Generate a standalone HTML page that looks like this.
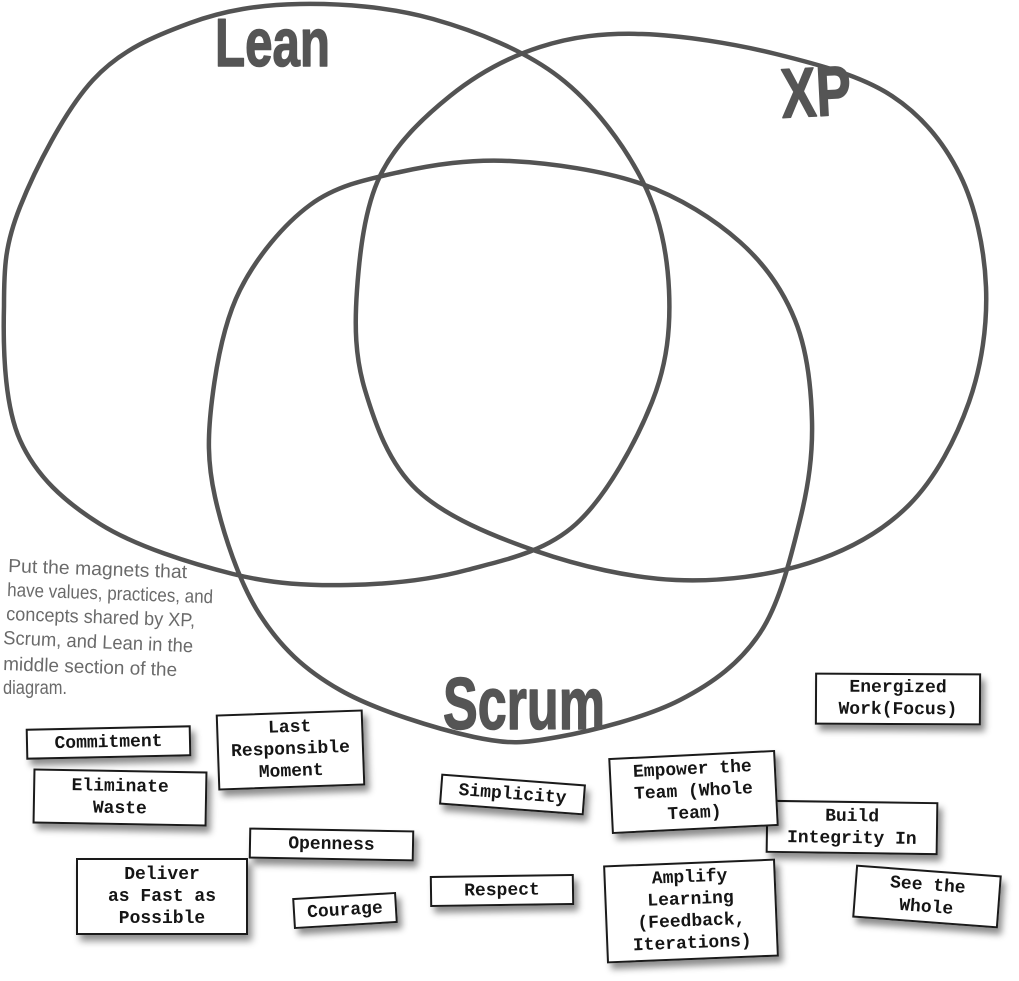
<!DOCTYPE html>
<html>
<head>
<meta charset="utf-8">
<style>
  html, body { margin:0; padding:0; background:#fff; }
  body { width:1019px; height:981px; position:relative; overflow:hidden; }
  svg.bg { position:absolute; left:0; top:0; }
  .m {
    position:absolute; box-sizing:border-box; background:#fff;
    border:2px solid #1a1a1a;
    box-shadow: 4px 6px 7px rgba(0,0,0,0.45);
    display:flex; align-items:center; justify-content:center; text-align:center;
    font-family:"Liberation Mono", "DejaVu Sans Mono", monospace;
    font-weight:bold; font-size:18px; line-height:22px; color:#151515;
    white-space:nowrap;
  }
</style>
</head>
<body>
<svg class="bg" width="1019" height="981" viewBox="0 0 1019 981" xmlns="http://www.w3.org/2000/svg">
  <g fill="none" stroke="#535353" stroke-width="4.5" stroke-linejoin="round">
    <!-- Lean -->
    <path d="M300,4 C340.5,3.3 389.8,6.8 433,19 C476.2,31.2 524.2,50.2 559,77 C593.8,103.8 623.7,144.5 642,180 C660.3,215.5 667.3,253 669,290 C670.7,327 667.5,363 652,402 C636.5,441 606.8,496 576,524 C545.2,552 505,559.8 467,570 C429,580.2 387,584.3 348,585 C309,585.7 274.3,584.2 233,574 C191.7,563.8 135.5,546.3 100,524 C64.5,501.7 36.2,476.3 20,440 C3.8,403.7 3,344.8 4,306 C4,267.2 5,244.7 20,207 C35,169.3 64.7,110.7 93,80 C121.3,49.3 155.5,35.7 190,23 C224.5,10.3 259.5,4.7 300,4 Z"/>
    <!-- XP -->
    <path d="M642,34 C681.3,35.2 734.3,43.7 776,54 C817.7,64.3 861.3,75.8 892,96 C922.7,116.2 944.3,143.2 960,175 C975.7,206.8 984.5,249.2 986,287 C987.5,324.8 981.8,365.7 969,402 C956.2,438.3 935.7,478.2 909,505 C882.3,531.8 847.8,550.5 809,563 C770.2,575.5 721.5,582 676,580 C630.5,578 579.2,566 536,551 C492.8,536 445.5,516.8 417,490 C388.5,463.2 375,423.3 365,390 C355,356.7 354.5,325.7 357,290 C359.5,254.3 364.5,208.3 380,176 C395.5,143.7 423.3,117.5 450,96 C476.7,74.5 508,57.3 540,47 C572,36.7 602.7,32.8 642,34 Z"/>
    <!-- Scrum -->
    <path d="M510,161 C550.3,163 603.7,170.5 642,184 C680.3,197.5 714.5,219.3 740,242 C765.5,264.7 783,290.2 795,320 C807,349.8 811.2,387.7 812,421 C812.8,454.3 808.7,484.7 800,520 C791.3,555.3 780,603 760,633 C740,663 713.7,682.7 680,700 C646.3,717.3 592.3,730.8 558,737 C523.7,743.2 510.3,744.8 474,737 C437.7,729.2 375.7,710.3 340,690 C304.3,669.7 280.8,647.2 260,615 C239.2,582.8 223,532.8 215,497 C207,461.2 207.8,434.5 212,400 C216.2,365.5 223.7,322.5 240,290 C256.3,257.5 283.3,224.7 310,205 C336.7,185.3 366.7,179.3 400,172 C433.3,164.7 469.7,159 510,161 Z"/>
  </g>
  <g fill="#555" stroke="#555" stroke-width="1.5" stroke-linejoin="round" font-family="Liberation Sans, Arial, sans-serif" font-weight="bold">
    <text x="215" y="66" font-size="68" textLength="115" lengthAdjust="spacingAndGlyphs">Lean</text>
    <text x="781" y="116" font-size="70" textLength="70" lengthAdjust="spacingAndGlyphs" transform="rotate(-3 816 92)">XP</text>
    <text x="443" y="729" font-size="73" textLength="162" lengthAdjust="spacingAndGlyphs">Scrum</text>
  </g>
  <g fill="#6a6a6a" font-family="Liberation Sans, Arial, sans-serif" font-size="19">
    <text x="8" y="572" textLength="179" lengthAdjust="spacingAndGlyphs" transform="rotate(2 8 572)">Put the magnets that</text>
    <text x="7" y="596" textLength="206" lengthAdjust="spacingAndGlyphs" transform="rotate(2 7 596)">have values, practices, and</text>
    <text x="6" y="620" textLength="189" lengthAdjust="spacingAndGlyphs" transform="rotate(2 6 620)">concepts shared by XP,</text>
    <text x="3" y="644" textLength="190" lengthAdjust="spacingAndGlyphs" transform="rotate(2.5 3 644)">Scrum, and Lean in the</text>
    <text x="3" y="670" textLength="174" lengthAdjust="spacingAndGlyphs" transform="rotate(2 3 670)">middle section of the</text>
    <text x="3" y="694" textLength="64" lengthAdjust="spacingAndGlyphs">diagram.</text>
  </g>
</svg>

<div class="m" style="left:26px;top:727px;width:165px;height:31px;transform:rotate(-1.2deg);">Commitment</div>
<div class="m" style="left:217px;top:712px;width:147px;height:76px;transform:rotate(-2deg);">Last<br>Responsible<br>Moment</div>
<div class="m" style="left:33px;top:770px;width:174px;height:55px;transform:rotate(1deg);">Eliminate<br>Waste</div>
<div class="m" style="left:249px;top:829px;width:165px;height:31px;transform:rotate(1deg);">Openness</div>
<div class="m" style="left:76px;top:858px;width:172px;height:77px;">Deliver<br>as Fast as<br>Possible</div>
<div class="m" style="left:293px;top:895px;width:104px;height:31px;transform:rotate(-3.4deg);">Courage</div>
<div class="m" style="left:815px;top:673px;width:166px;height:52px;transform:rotate(0.3deg);">Energized<br>Work(Focus)</div>
<div class="m" style="left:440px;top:779px;width:145px;height:31px;transform:rotate(4.3deg);">Simplicity</div>
<div class="m" style="left:766px;top:801px;width:172px;height:53px;transform:rotate(0.8deg);">Build<br>Integrity In</div>
<div class="m" style="left:610px;top:754px;width:167px;height:76px;transform:rotate(-2.8deg);">Empower the<br>Team (Whole<br>Team)</div>
<div class="m" style="left:430px;top:875px;width:144px;height:31px;transform:rotate(-0.8deg);">Respect</div>
<div class="m" style="left:605px;top:862px;width:172px;height:98px;transform:rotate(-2.3deg);">Amplify<br>Learning<br>(Feedback,<br>Iterations)</div>
<div class="m" style="left:854px;top:870px;width:146px;height:53px;transform:rotate(4.3deg);">See the<br>Whole</div>
</body>
</html>
